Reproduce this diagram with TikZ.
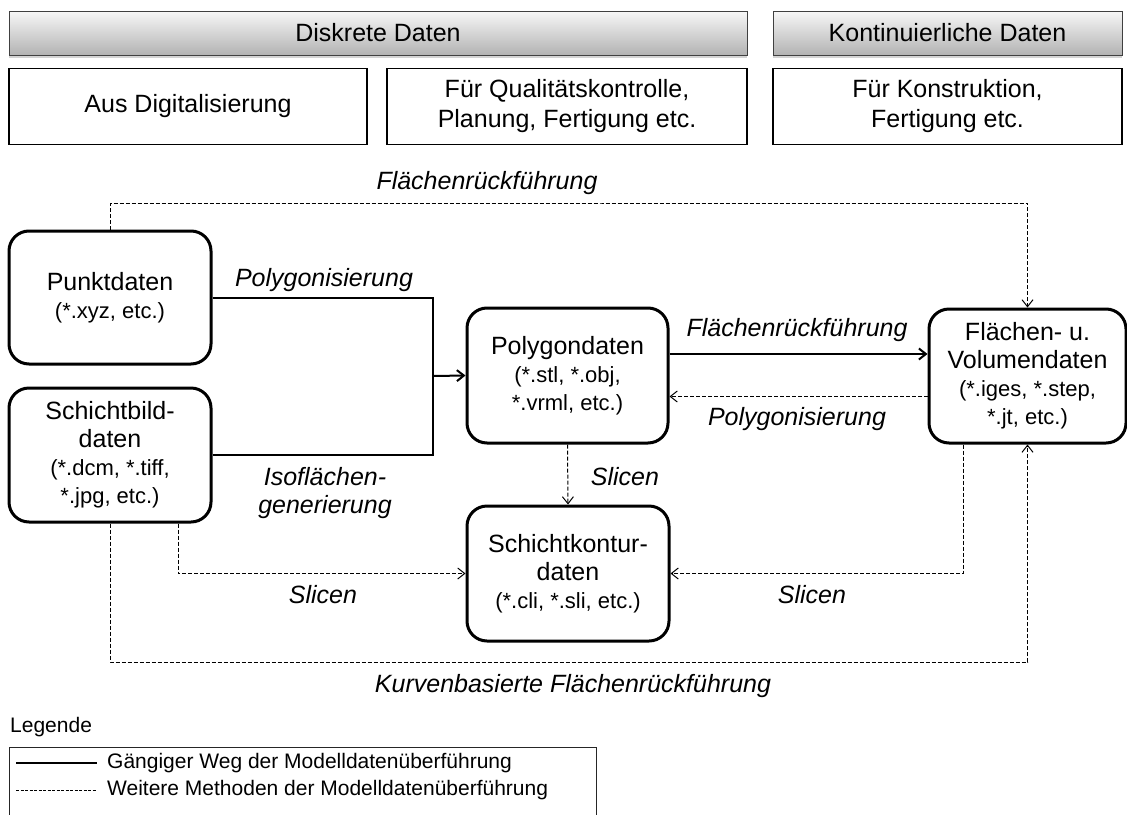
\documentclass[tikz,border=0pt]{standalone}
\usepackage{fontspec}
\setmainfont{Liberation Sans}
\usetikzlibrary{arrows.meta,shadows}

\newcommand\grossfs{\fontsize{25}{28}\selectfont}
\newcommand\kleinfs{\fontsize{22}{27}\selectfont}
\newcommand\legendfs{\fontsize{21}{25}\selectfont}

\tikzset{
  kopf/.style={draw=black!75, line width=0.8pt, top color=black!3, bottom color=black!30,
    drop shadow={shadow xshift=0pt, shadow yshift=-2.5pt, opacity=0.35},
    minimum height=44pt, inner sep=0pt, font=\grossfs},
  kategorie/.style={draw, line width=1.6pt, minimum height=76pt, inner sep=0pt,
    align=center, font=\fontsize{25}{30}\selectfont},
  daten/.style={draw, line width=3pt, rounded corners=20pt, inner sep=0pt,
    align=center, font=\grossfs},
  weg/.style={line width=2pt},
  methode/.style={line width=1pt, dash pattern=on 4pt off 2pt},
  spitze/.style={-{Straight Barb[length=7pt,width=11pt]}},
  wegtext/.style={font=\grossfs\itshape}
}

\begin{document}
\begin{tikzpicture}[x=1pt,y=-1pt]
\useasboundingbox (0,0) rectangle (1127,814);

% Kopfzeilen
\node[kopf, minimum width=738pt] (diskret) at (378,33) {Diskrete Daten};
\node[kopf, minimum width=349pt] (kontinuierlich) at (947.5,33) {Kontinuierliche Daten};

\node[kategorie, minimum width=358pt] (digital) at (188,106.5) {Aus Digitalisierung};
\node[kategorie, minimum width=360pt] (qualitaet) at (567,106.5) {Für Qualitätskontrolle,\\Planung, Fertigung etc.};
\node[kategorie, minimum width=349pt] (konstruktion) at (947.5,106.5) {Für Konstruktion,\\Fertigung etc.};

% Datenformate
\node[daten, minimum width=202pt, minimum height=133pt] (punkt) at (110,297.5) {Punktdaten\\{\kleinfs (*.xyz, etc.)}};
\node[daten, minimum width=202pt, minimum height=134pt] (schichtbild) at (110,455) {Schichtbild-\\daten\\{\kleinfs (*.dcm, *.tiff,}\\{\kleinfs *.jpg, etc.)}};
\node[daten, minimum width=201pt, minimum height=135pt] (polygon) at (567.5,375.5) {Polygondaten\\{\kleinfs (*.stl, *.obj,}\\{\kleinfs *.vrml, etc.)}};
\node[daten, minimum width=197pt, minimum height=134pt] (flaechen) at (1027.5,376) {Flächen- u.\\Volumendaten\\{\kleinfs (*.iges, *.step,}\\{\kleinfs *.jt, etc.)}};
\node[daten, minimum width=202pt, minimum height=135pt] (kontur) at (568,573.5) {Schichtkontur-\\daten\\{\kleinfs (*.cli, *.sli, etc.)}};

% Wege
\coordinate (zusammen) at (433,376);
\draw[weg] (punkt.east) -| (zusammen);
\draw[weg] (schichtbild.east) -| (zusammen);
\draw[weg,spitze] (zusammen) -- (polygon.west);
\draw[weg,spitze] ([yshift=21.5pt]polygon.east) -- ([yshift=21.5pt]polygon.east -| flaechen.west);
\draw[methode,spitze] ([yshift=-20.5pt]flaechen.west) -- ([yshift=-20.5pt]flaechen.west -| polygon.east);
\draw[methode,spitze] (polygon.south) -- (kontur.north);
\draw[methode,spitze] ([xshift=68pt]schichtbild.south) |- (kontur.west);
\draw[methode,spitze] ([xshift=-64.5pt]flaechen.south) |- (kontur.east);
\coordinate (obenweg) at (600,203);
\draw[methode,spitze] (punkt.north) |- (obenweg) -| (flaechen.north);
\coordinate (untenweg) at (600,662);
\draw[methode,spitze] (schichtbild.south) |- (untenweg) -| (flaechen.south);

\node[wegtext] (toben) at (487,183) {Flächenrückführung};
\node[wegtext] (tpolyeins) at (324,280) {Polygonisierung};
\node[wegtext, align=center] (tiso) at (325,493) {Isoflächen-\\generierung};
\node[wegtext] (tflaechen) at (797,330) {Flächenrückführung};
\node[wegtext] (tpolyzwei) at (797,419) {Polygonisierung};
\node[wegtext] (tsliceneins) at (625,477) {Slicen};
\node[wegtext] (tslicenzwei) at (323,595) {Slicen};
\node[wegtext] (tslicendrei) at (812,595) {Slicen};
\node[wegtext] (tkurven) at (573,686) {Kurvenbasierte Flächenrückführung};

% Legende
\node[font=\legendfs, anchor=west, inner sep=0pt] (legende) at (10,727) {Legende};
\draw[line width=1pt, draw=black!85] (9,747) rectangle (596,840);
\node[font=\legendfs, anchor=west, inner sep=0pt] (gaengig) at (107,763) {Gängiger Weg der Modelldatenüberführung};
\node[font=\legendfs, anchor=west, inner sep=0pt] (weitere) at (107,790) {Weitere Methoden der Modelldatenüberführung};
\coordinate (leinsa) at (16,763);
\coordinate (lzweia) at (16,790);
\draw[line width=1.5pt] (leinsa) -- ([xshift=-10pt]gaengig.west);
\draw[line width=0.8pt, dash pattern=on 3pt off 1.5pt] (lzweia) -- ([xshift=-10pt]weitere.west);
\end{tikzpicture}
\end{document}
